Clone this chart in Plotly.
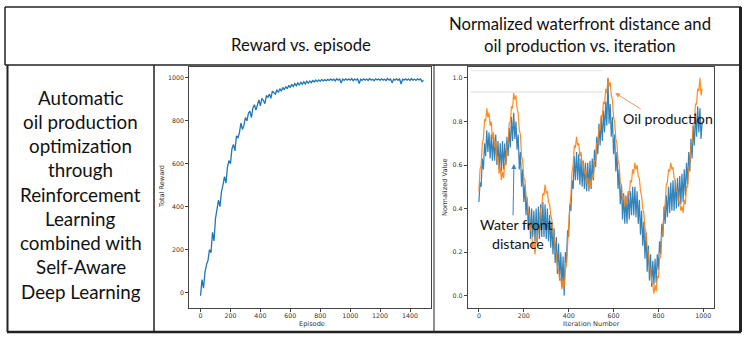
import plotly.graph_objects as go

W, H = 750, 340

# ---- data ----
episodes = list(range(0, 1500, 10))
reward = [
    -15, 60, 20, 95, 130, 150, 200, 185, 280, 240,
    345, 390, 430, 400, 470, 500, 540, 510, 585, 615,
    600, 670, 690, 660, 730, 720, 745, 790, 760, 780,
    815, 800, 835, 845, 815, 860, 875, 850, 880, 898,
    870, 905, 895, 880, 918, 910, 925, 905, 938, 930,
    925, 945, 932, 950, 938, 956, 945, 960, 950, 966,
    955, 970, 960, 974, 964, 977, 966, 980, 970, 982,
    972, 985, 976, 986, 978, 988, 981, 990, 983, 991,
    984, 993, 986, 992, 987, 993, 988, 995, 989, 994,
    986, 996, 990, 995, 976, 995, 989, 996, 990, 995,
    990, 997, 987, 995, 990, 996, 974, 994, 989, 996,
    990, 995, 988, 997, 990, 994, 987, 996, 991, 995,
    989, 996, 990, 994, 988, 997, 990, 995, 977, 994,
    990, 996, 989, 995, 972, 994, 990, 996, 990, 995,
    988, 997, 990, 994, 989, 996, 991, 995, 983, 990,
]

iterations = list(range(0, 1000, 5))
water_front = [
    0.43, 0.52, 0.50, 0.63, 0.58, 0.70, 0.64, 0.76, 0.66, 0.75,
    0.63, 0.74, 0.62, 0.73, 0.62, 0.74, 0.60, 0.71, 0.58, 0.70,
    0.57, 0.71, 0.58, 0.70, 0.60, 0.73, 0.64, 0.77, 0.68, 0.82,
    0.71, 0.84, 0.72, 0.80, 0.67, 0.74, 0.58, 0.66, 0.50, 0.58,
    0.43, 0.51, 0.37, 0.45, 0.31, 0.41, 0.26, 0.40, 0.27, 0.39,
    0.25, 0.40, 0.24, 0.41, 0.26, 0.42, 0.27, 0.43, 0.27, 0.42,
    0.26, 0.40, 0.25, 0.37, 0.22, 0.34, 0.19, 0.31, 0.15, 0.27,
    0.10, 0.24, 0.07, 0.20, 0.04, 0.18, 0.00, 0.20, 0.15, 0.30,
    0.27, 0.42, 0.39, 0.53, 0.49, 0.64, 0.53, 0.66, 0.53, 0.65,
    0.51, 0.63, 0.50, 0.62, 0.49, 0.61, 0.48, 0.61, 0.48, 0.62,
    0.49, 0.63, 0.53, 0.67, 0.59, 0.73, 0.65, 0.79, 0.69, 0.82,
    0.71, 0.85, 0.75, 0.89, 0.78, 1.00, 0.79, 0.88, 0.73, 0.82,
    0.65, 0.74, 0.57, 0.66, 0.49, 0.58, 0.42, 0.51, 0.35, 0.47,
    0.33, 0.46, 0.33, 0.47, 0.35, 0.48, 0.37, 0.50, 0.37, 0.50,
    0.36, 0.48, 0.33, 0.44, 0.28, 0.39, 0.23, 0.34, 0.17, 0.29,
    0.11, 0.23, 0.07, 0.19, 0.04, 0.16, 0.05, 0.17, 0.06, 0.19,
    0.12, 0.25, 0.19, 0.33, 0.27, 0.41, 0.33, 0.46, 0.36, 0.50,
    0.38, 0.52, 0.39, 0.53, 0.39, 0.53, 0.40, 0.54, 0.41, 0.55,
    0.42, 0.56, 0.43, 0.58, 0.46, 0.61, 0.51, 0.66, 0.57, 0.72,
    0.63, 0.78, 0.69, 0.84, 0.73, 0.87, 0.75, 0.86, 0.72, 0.80,
]
oil_production = [
    0.48, 0.58, 0.60, 0.70, 0.72, 0.81, 0.80, 0.86, 0.82, 0.84,
    0.78, 0.80, 0.72, 0.75, 0.68, 0.71, 0.62, 0.64, 0.56, 0.59,
    0.53, 0.57, 0.54, 0.61, 0.60, 0.69, 0.70, 0.79, 0.80, 0.87,
    0.86, 0.93, 0.90, 0.92, 0.86, 0.84, 0.76, 0.74, 0.64, 0.62,
    0.54, 0.53, 0.46, 0.45, 0.38, 0.37, 0.30, 0.29, 0.22, 0.25,
    0.19, 0.27, 0.25, 0.32, 0.33, 0.40, 0.41, 0.47, 0.46, 0.51,
    0.47, 0.48, 0.43, 0.42, 0.37, 0.35, 0.29, 0.27, 0.21, 0.19,
    0.13, 0.12, 0.07, 0.08, 0.03, 0.07, 0.04, 0.12, 0.14, 0.25,
    0.30, 0.41, 0.46, 0.57, 0.60, 0.69, 0.68, 0.73, 0.69, 0.70,
    0.64, 0.66, 0.60, 0.62, 0.56, 0.58, 0.52, 0.54, 0.49, 0.53,
    0.50, 0.56, 0.54, 0.62, 0.62, 0.70, 0.70, 0.77, 0.76, 0.83,
    0.82, 0.89, 0.88, 0.95, 0.93, 1.00, 0.96, 0.98, 0.92, 0.90,
    0.82, 0.80, 0.72, 0.70, 0.62, 0.60, 0.52, 0.51, 0.44, 0.46,
    0.41, 0.45, 0.42, 0.48, 0.46, 0.53, 0.52, 0.58, 0.56, 0.61,
    0.58, 0.60, 0.55, 0.54, 0.48, 0.46, 0.40, 0.38, 0.31, 0.29,
    0.22, 0.20, 0.13, 0.12, 0.06, 0.05, 0.01, 0.05, 0.02, 0.09,
    0.08, 0.17, 0.18, 0.28, 0.30, 0.40, 0.42, 0.51, 0.52, 0.58,
    0.57, 0.61, 0.58, 0.59, 0.54, 0.53, 0.48, 0.48, 0.43, 0.43,
    0.39, 0.41, 0.38, 0.44, 0.42, 0.50, 0.50, 0.59, 0.60, 0.69,
    0.70, 0.79, 0.80, 0.88, 0.88, 0.95, 0.94, 1.00, 0.92, 0.95,
]

header_1 = "Reward vs. episode"
header_2 = ["Normalized waterfront distance and", "oil production vs. iteration"]
left_lines = ["Automatic", "oil production", "optimization", "through",
              "Reinforcement", "Learning", "combined with", "Self-Aware",
              "Deep Learning"]

BLUE = "#1f77b4"
ORANGE = "#ff7f0e"
TXT = "#111111"
FONT = "Lato"
MPL = "DejaVu Sans"


def px(x):
    return x / W


def py(y):
    return 1 - y / H


fig = go.Figure()
fig.add_trace(go.Scatter(x=episodes, y=reward, mode="lines",
                         line=dict(color=BLUE, width=1.3), xaxis="x", yaxis="y"))
fig.add_trace(go.Scatter(x=iterations, y=water_front, mode="lines", opacity=0.9,
                         line=dict(color=BLUE, width=1.2), xaxis="x2", yaxis="y2"))
fig.add_trace(go.Scatter(x=iterations, y=oil_production, mode="lines", opacity=0.9,
                         line=dict(color=ORANGE, width=1.2), xaxis="x2", yaxis="y2"))

ax_common = dict(showgrid=False, zeroline=False, showline=True, mirror=True,
                 linecolor="#444", linewidth=1, ticks="outside", ticklen=3,
                 tickcolor="#444", tickfont=dict(family=MPL, size=6.3, color="#333"))
ydom = [py(307.5), py(67)]
fig.update_layout(
    width=W, height=H, showlegend=False,
    margin=dict(l=0, r=0, t=0, b=0),
    paper_bgcolor="white", plot_bgcolor="white",
    xaxis=dict(domain=[px(189.3), px(431)], range=[-75, 1540], ticklabelstandoff=-1,
               tickvals=[0, 200, 400, 600, 800, 1000, 1200, 1400], **ax_common),
    yaxis=dict(domain=ydom, range=[-70, 1051], tickvals=[0, 200, 400, 600, 800, 1000],
               **ax_common),
    xaxis2=dict(domain=[px(467.7), px(714.3)], range=[-50, 1049], anchor="y2",
                ticklabelstandoff=-1,
                tickvals=[0, 200, 400, 600, 800, 1000], **ax_common),
    yaxis2=dict(domain=ydom, range=[-0.054, 1.05], anchor="x2",
                tickvals=[0, 0.2, 0.4, 0.6, 0.8, 1.0], tickformat=".1f", **ax_common),
)

# table lines
dark = "#222"
lines = [
    (5, 7, 741, 7, 1.5), (5, 7, 5, 65, 1.5), (5, 65, 741, 65, 1.5),
    (740.5, 7, 740.5, 332, 3), (7, 332, 741, 332, 2.5),
    (7.5, 65, 7.5, 332, 2), (154, 65, 154, 332, 1.5),
    (434, 65, 434, 332, 1),
]
for x0, y0, x1, y1, w in lines:
    fig.add_shape(type="line", xref="paper", yref="paper",
                  x0=px(x0), y0=py(y0), x1=px(x1), y1=py(y1),
                  line=dict(color=dark, width=w))
# faint grey artefact lines inside the right chart
for yy, c in [(70.7, "#e6e6e6"), (92, "#d8d8d8")]:
    fig.add_shape(type="line", xref="paper", yref="paper",
                  x0=px(471), y0=py(yy), x1=px(603), y1=py(yy),
                  line=dict(color=c, width=1))


def label(x, y, text, size, family=FONT, color=TXT, angle=0):
    return dict(x=px(x), y=py(y), text=text, xref="paper", yref="paper",
                xanchor="center", yanchor="middle", showarrow=False, textangle=angle,
                font=dict(family=family, size=size, color=color))


ann = [
    label(301, 45, header_1, 16.7),
    label(580, 24, header_2[0], 16.7),
    label(580, 46, header_2[1], 16.7),
]
for i, t in enumerate(left_lines):
    ann.append(label(80.5, 97 + i * 24.25, t, 18.8))

ann += [
    label(312, 323.5, "Episode", 6.6, MPL, "#333"),
    label(591, 323.5, "Iteration Number", 6.6, MPL, "#333"),
    label(162, 187, "Total Reward", 6.6, MPL, "#333", -90),
    label(445, 187, "Normalized Value", 6.6, MPL, "#333", -90),
]

# arrows and labels in the right chart
ann += [
    dict(x=607, y=0.931, ax=728, ay=0.853, xref="x2", yref="y2", axref="x2", ayref="y2",
         text="", showarrow=True, arrowhead=2, arrowsize=1, arrowwidth=1,
         arrowcolor="#f0925a"),
    dict(x=156, y=0.605, ax=152, ay=0.362, xref="x2", yref="y2", axref="x2", ayref="y2",
         text="", showarrow=True, arrowhead=2, arrowsize=1, arrowwidth=1,
         arrowcolor="#3b82c4"),
    label(668, 118, "Oil production", 14.2),
    label(516, 224, "Water front", 14.2),
    label(518, 243, "distance", 14.2),
]
fig.update_layout(annotations=ann)

fig.write_html("out.html", config={"displayModeBar": False},
               post_script="document.body.style.margin='0';document.body.style.overflow='hidden';")
